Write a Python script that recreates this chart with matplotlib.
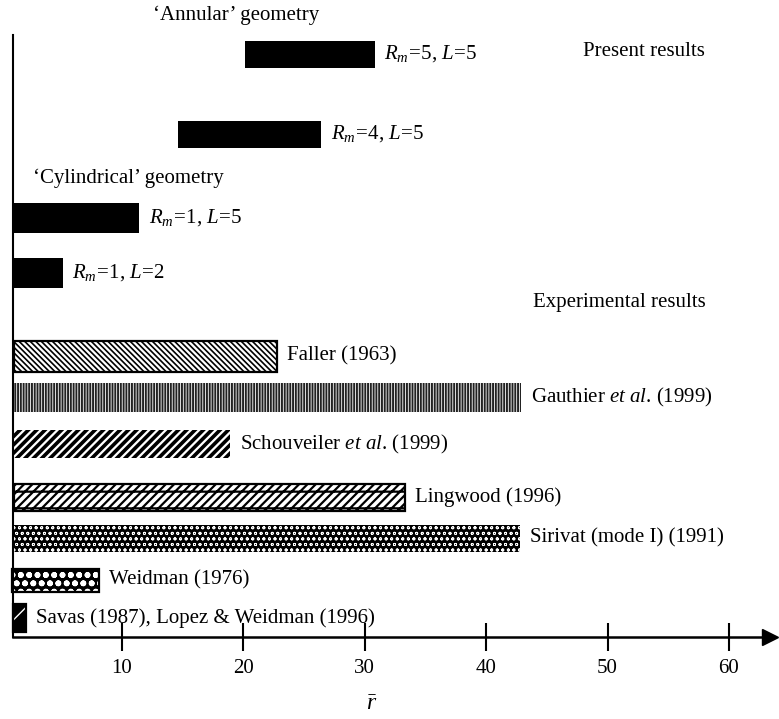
import matplotlib
matplotlib.use("Agg")
import matplotlib.pyplot as plt

plt.rcParams['font.family'] = ['Liberation Serif', 'DejaVu Serif']
plt.rcParams['mathtext.fontset'] = 'custom'
plt.rcParams['mathtext.rm'] = 'Liberation Serif'
plt.rcParams['mathtext.it'] = 'Liberation Serif:italic'

# data: range of r-bar covered by each result
labels = [r'$R_m\!=\!5$, $L\!=\!5$', r'$R_m\!=\!4$, $L\!=\!5$',
          r'$R_m\!=\!1$, $L\!=\!5$', r'$R_m\!=\!1$, $L\!=\!2$',
          'Faller (1963)', r'Gauthier $et\ al$. (1999)',
          r'Schouveiler $et\ al$. (1999)', 'Lingwood (1996)',
          'Sirivat (mode I) (1991)', 'Weidman (1976)',
          'Savas (1987), Lopez & Weidman (1996)']
r_start = [20.1, 14.6, 1.1, 1.1, 1.1, 1.1, 1.1, 1.1, 1.1, 0.9, 1.0]
r_end = [30.8, 26.4, 11.4, 5.1, 22.8, 42.9, 18.9, 33.3, 42.8, 8.1, 2.1]
xticks = [10, 20, 30, 40, 50, 60]

# layout (rows in pixels from the top)
row_y = [54, 134, 218, 273, 356, 397, 444, 497, 538, 580, 618]
row_h = [27, 27, 30, 30, 31, 29, 28, 27, 27, 23, 28]
# (face, hatch colour, hatch, hatch lw, outline)
styles = [
    ('black', 'black', None, 1.0, False),
    ('black', 'black', None, 1.0, False),
    ('black', 'black', None, 1.0, False),
    ('black', 'black', None, 1.0, False),
    ('white', 'black', '\\' * 6, 1.2, True),
    ('white', '#222222', '||||||', 1.4, False),
    ('white', 'black', '////', 2.6, False),
    ('white', 'black', '////-', 1.6, True),
    ('black', 'white', 'ooo', 0.6, False),
    ('black', 'white', 'oo', 1.8, True),
    ('black', 'white', '/', 1.0, True),
]
fs = 15

fig = plt.figure(figsize=(7.79, 7.19), dpi=100)
ax = fig.add_axes([0, 0, 1, 1])
ax.set_xlim(-0.05, 64.12)
ax.set_ylim(719, 0)

for i in range(len(labels)):
    face, hcol, hatch, hlw, outline = styles[i]
    w = r_end[i] - r_start[i]
    b = ax.barh(row_y[i], w, left=r_start[i], height=row_h[i],
                color=face, edgecolor=hcol, hatch=hatch, linewidth=0)[0]
    if hasattr(b, 'set_hatch_linewidth'):
        b.set_hatch_linewidth(hlw)
    if outline:
        ax.barh(row_y[i], w, left=r_start[i], height=row_h[i],
                fill=False, edgecolor='black', linewidth=1.6)
    ax.annotate(labels[i], (r_end[i], row_y[i]), xytext=(7, 0),
                textcoords='offset points', va='center', ha='left', fontsize=fs)

ax.text(12.55, 15, '\u2018Annular\u2019 geometry', fontsize=fs, va='center')
ax.text(47.97, 52, 'Present results', fontsize=fs, va='center')
ax.text(2.67, 178, '\u2018Cylindrical\u2019 geometry', fontsize=fs, va='center')
ax.text(43.85, 302, 'Experimental results', fontsize=fs, va='center')
ax.text(30.6, 705, r'$\bar{r}$', fontsize=17, va='center', ha='center')

# axes drawn like the hand-made original
for s in ['top', 'right']:
    ax.spines[s].set_visible(False)
ax.spines['bottom'].set_position(('data', 637))
ax.spines['bottom'].set_bounds(1.0, 63.3)
ax.spines['bottom'].set_linewidth(1.8)
ax.spines['left'].set_position(('data', 1.0))
ax.spines['left'].set_bounds(35, 637)
ax.spines['left'].set_linewidth(1.5)
ax.plot(63.4, 637, marker='>', markersize=12, color='black', clip_on=False)

ax.set_xticks(xticks)
ax.set_xticklabels([str(t) for t in xticks])
ax.tick_params(axis='x', direction='inout', length=20, width=1.5, pad=6, labelsize=fs)
ax.set_yticks([])

fig.savefig('out.png', dpi=100)
